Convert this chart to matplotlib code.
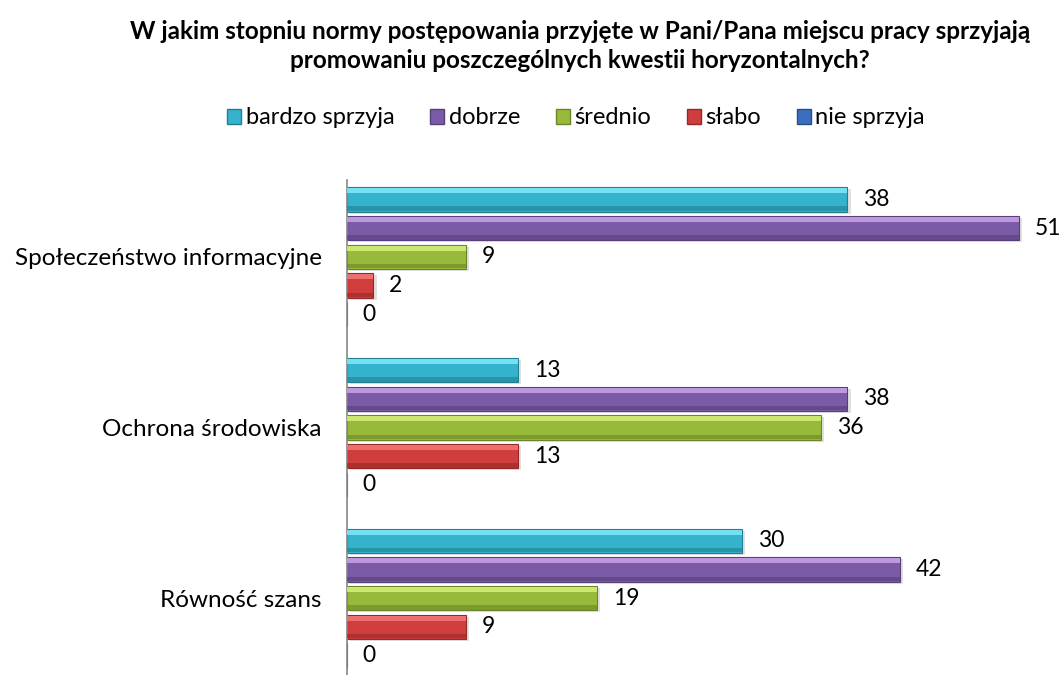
import matplotlib
matplotlib.use("Agg")
import matplotlib.pyplot as plt
from matplotlib.patches import Patch
import numpy as np

plt.rcParams['font.family'] = ['Lato', 'DejaVu Sans']

title = "W jakim stopniu normy postępowania przyjęte w Pani/Pana miejscu pracy sprzyjają\npromowaniu poszczególnych kwestii horyzontalnych?"
categories = ["Społeczeństwo informacyjne", "Ochrona środowiska", "Równość szans"]
series_names = ["bardzo sprzyja", "dobrze", "średnio", "słabo", "nie sprzyja"]
values = {
    "bardzo sprzyja": [38, 13, 30],
    "dobrze": [51, 38, 42],
    "średnio": [9, 36, 19],
    "słabo": [2, 13, 9],
    "nie sprzyja": [0, 0, 0],
}
colors = ["#35b3cc", "#7b5ba6", "#98ba3a", "#cf3d3d", "#3a6fbf"]
light = ["#7fe9fa", "#c9a3ea", "#d5f07a", "#f27a7a", "#7fb0f0"]
dark = ["#227f92", "#56407a", "#6b8628", "#962828", "#274f8c"]

fig = plt.figure(figsize=(10.6, 6.75), dpi=100)
ax = fig.add_axes([347/1060, 0.0, (1058-347)/1060, 1-180/675])

slot = 0.168
bh = 0.142
y0 = np.arange(len(categories))
for k, name in enumerate(series_names):
    ys = y0 + (k - 2) * slot
    vals = values[name]
    # shadow
    ax.barh(ys + 0.012, vals, height=bh, left=0.25, color="#000000", alpha=0.12, zorder=1)
    ax.barh(ys, vals, height=bh, color=colors[k], edgecolor=dark[k], linewidth=0.8, zorder=2)
    # bevel highlight (top) and darker bottom band
    ax.barh(ys - bh * 0.36, vals, height=bh * 0.2, color=light[k], alpha=0.85, linewidth=0, zorder=3)
    ax.barh(ys + bh * 0.38, vals, height=bh * 0.18, color=dark[k], alpha=0.6, linewidth=0, zorder=3)
    for y, v in zip(ys, vals):
        ax.text(v + 1.2, y, str(v), va="center", ha="left", fontsize=16.5, color="#000000")

ax.set_xlim(0, 54)
ax.set_ylim(2.45, -0.45)
ax.set_yticks(y0)
ax.set_yticklabels(categories, fontsize=17.5)
ax.tick_params(axis='y', length=0, pad=18)
ax.set_xticks([])
for s in ["top", "right", "bottom"]:
    ax.spines[s].set_visible(False)
ax.spines["left"].set_color("#888888")
ax.spines["left"].set_linewidth(1.2)

fig.text(580/1060, 1-46/675, title, ha="center", va="center", fontsize=17.5,
         fontweight="bold", linespacing=1.3)

handles = [Patch(facecolor=colors[i], edgecolor=dark[i]) for i in range(5)]
fig.legend(handles, series_names, loc="center", bbox_to_anchor=(576/1060, 1-118/675),
           ncol=5, frameon=False, fontsize=17, handlelength=0.6, handleheight=0.6,
           handletextpad=0.2, columnspacing=1.5)

fig.savefig("out.png", dpi=100)
